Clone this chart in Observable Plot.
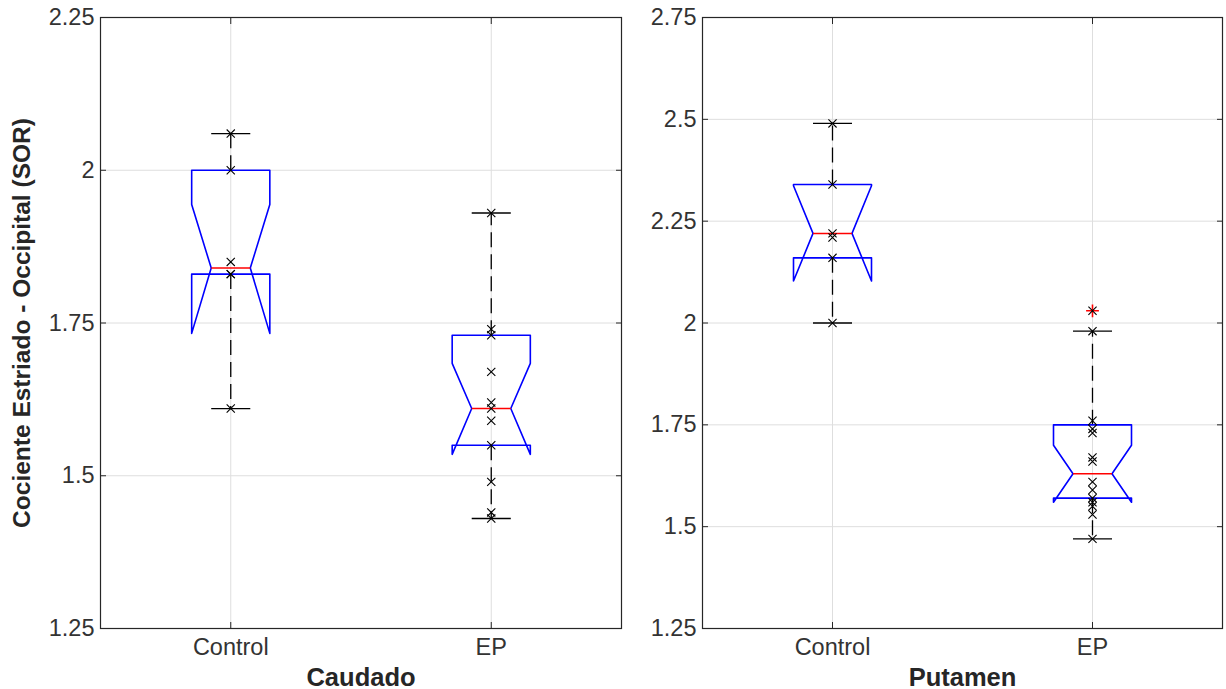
<!DOCTYPE html>
<html>
<head>
<meta charset="utf-8">
<script src="https://cdn.jsdelivr.net/npm/d3@7"></script>
<script src="https://cdn.jsdelivr.net/npm/@observablehq/plot@0.6"></script>
<style>
  body { margin: 0; background: #fff; }
  #wrap { position: relative; width: 1226px; height: 689px; background: #fff; }
  .panel { position: absolute; top: 0; }
  .panel svg { font-family: "Liberation Sans", Arial, Helvetica, sans-serif; overflow: visible; }
  .panel svg [aria-label="x-axis label"] { font-weight: bold; font-size: 25.5px; fill: #262626; }
  .panel svg [aria-label="y-axis label"] { font-weight: bold; font-size: 24.5px; fill: #262626; }
</style>
</head>
<body>
<div id="wrap">
  <div class="panel" id="caudado" style="left:0"></div>
  <div class="panel" id="putamen" style="left:626px"></div>
</div>
<script>
// Groups compared in each region
const groups = ["Control", "EP"];

// Caudado: box-plot summary per group (Control, EP)
const caudQ1 = [1.83, 1.55];
const caudMedian = [1.84, 1.61];
const caudQ3 = [2.00, 1.73];
const caudNotchLo = [1.733, 1.535];
const caudNotchHi = [1.944, 1.684];
const caudWhiskerLo = [1.61, 1.43];
const caudWhiskerHi = [2.06, 1.93];
const caudOutliers = [[], []];
// Caudado: individual SOR values
const caudControl = [2.06, 2.00, 1.85, 1.83, 1.83, 1.61];
const caudEP = [1.93, 1.74, 1.73, 1.67, 1.62, 1.61, 1.59, 1.55, 1.49, 1.44, 1.43];
const caudTicks = [1.25, 1.5, 1.75, 2, 2.25];

// Putamen: box-plot summary per group (Control, EP)
const putQ1 = [2.16, 1.57];
const putMedian = [2.22, 1.63];
const putQ3 = [2.34, 1.75];
const putNotchLo = [2.103, 1.56];
const putNotchHi = [2.337, 1.70];
const putWhiskerLo = [2.00, 1.47];
const putWhiskerHi = [2.49, 1.98];
const putOutliers = [[], [2.03]];
// Putamen: individual SOR values
const putControl = [2.49, 2.34, 2.22, 2.21, 2.16, 2.00];
const putEP = [2.03, 1.98, 1.76, 1.74, 1.73, 1.67, 1.66, 1.61, 1.59, 1.57, 1.56, 1.55, 1.53, 1.47];
const putTicks = [1.25, 1.5, 1.75, 2, 2.25, 2.5, 2.75];

const BOX_HALF = 0.15;    // half box width, in group units
const NOTCH_HALF = 0.075; // half width at the notch waist
const CAP_HALF = 0.075;   // half width of whisker caps
const INK = "#262626";

function panel({q1, med, q3, nlo, nhi, wlo, whi, outliers, obs, ticks, xLabel, yLabel, marginLeft, marginRight, width}) {
  const stats = groups.map((g, i) => ({
    g, c: i + 1, q1: q1[i], med: med[i], q3: q3[i], nlo: nlo[i], nhi: nhi[i], wlo: wlo[i], whi: whi[i]
  }));

  // Notched outline, traced the same way for every group
  const outline = stats.flatMap(s => {
    const L = s.c - BOX_HALF, R = s.c + BOX_HALF;
    const Ln = s.c - NOTCH_HALF, Rn = s.c + NOTCH_HALF;
    return [
      [L, s.q3], [R, s.q3], [R, s.nhi], [Rn, s.med], [R, s.nlo], [R, s.q1],
      [L, s.q1], [L, s.nlo], [Ln, s.med], [L, s.nhi], [L, s.q3]
    ].map(([x, y]) => ({g: s.g, x, y}));
  });

  const whiskers = stats.flatMap(s => [
    {c: s.c, y1: s.q3, y2: s.whi},
    {c: s.c, y1: s.q1, y2: s.wlo}
  ]);
  const caps = stats.flatMap(s => [{c: s.c, y: s.whi}, {c: s.c, y: s.wlo}]);
  const points = obs.flatMap((vals, i) => vals.map(v => ({c: i + 1, y: v})));
  const outs = outliers.flatMap((vals, i) => vals.map(v => ({c: i + 1, y: v})));
  const yDomain = [ticks[0], ticks[ticks.length - 1]];

  return Plot.plot({
    width,
    height: 689,
    marginTop: 17,
    marginBottom: 61,
    marginLeft,
    marginRight,
    style: {fontSize: "23.5px", color: INK, background: "transparent"},
    x: {domain: [0.5, 2.5]},
    y: {domain: yDomain},
    marks: [
      Plot.gridY(ticks, {stroke: "#dedede", strokeOpacity: 1}),
      Plot.gridX([1, 2], {stroke: "#dedede", strokeOpacity: 1}),
      Plot.link(whiskers, {x1: "c", x2: "c", y1: "y1", y2: "y2", stroke: "black", strokeWidth: 1.3, strokeDasharray: "15,7"}),
      Plot.link(caps, {x1: d => d.c - CAP_HALF, x2: d => d.c + CAP_HALF, y1: "y", y2: "y", stroke: "black", strokeWidth: 1.3}),
      Plot.line(outline, {x: "x", y: "y", z: "g", stroke: "#0000ff", strokeWidth: 1.6}),
      Plot.link(stats, {x1: d => d.c - NOTCH_HALF, x2: d => d.c + NOTCH_HALF, y1: "med", y2: "med", stroke: "#ff0000", strokeWidth: 1.5}),
      Plot.dot(outs, {x: "c", y: "y", symbol: "plus", r: 4.2, stroke: "#ff0000", strokeWidth: 1.6}),
      Plot.dot(points, {x: "c", y: "y", symbol: "times", r: 3.8, stroke: "black", strokeWidth: 1.1}),
      Plot.axisY({ticks, anchor: "left", tickSize: 0, tickPadding: 6, tickFormat: d => String(d), fill: "#333",
        label: yLabel, labelAnchor: "center", labelArrow: "none", labelOffset: 88}),
      Plot.axisY({ticks, anchor: "left", tickSize: -6, fill: "none", stroke: INK, label: null}),
      Plot.axisY({ticks, anchor: "right", tickSize: -6, fill: "none", stroke: INK, label: null}),
      Plot.axisX({ticks: [1, 2], anchor: "bottom", tickSize: 0, tickPadding: 10, tickFormat: i => groups[i - 1], fill: "#333",
        label: xLabel, labelAnchor: "center", labelArrow: "none", labelOffset: 57}),
      Plot.axisX({ticks: [1, 2], anchor: "bottom", tickSize: -6, fill: "none", stroke: INK, label: null}),
      Plot.axisX({ticks: [1, 2], anchor: "top", tickSize: -6, fill: "none", stroke: INK, label: null}),
      Plot.frame({stroke: INK, strokeWidth: 1.2})
    ]
  });
}

document.getElementById("caudado").append(panel({
  q1: caudQ1, med: caudMedian, q3: caudQ3, nlo: caudNotchLo, nhi: caudNotchHi,
  wlo: caudWhiskerLo, whi: caudWhiskerHi, outliers: caudOutliers,
  obs: [caudControl, caudEP], ticks: caudTicks,
  xLabel: "Caudado", yLabel: "Cociente Estriado - Occipital (SOR)",
  width: 626, marginLeft: 100, marginRight: 5
}));

document.getElementById("putamen").append(panel({
  q1: putQ1, med: putMedian, q3: putQ3, nlo: putNotchLo, nhi: putNotchHi,
  wlo: putWhiskerLo, whi: putWhiskerHi, outliers: putOutliers,
  obs: [putControl, putEP], ticks: putTicks,
  xLabel: "Putamen", yLabel: null,
  width: 600, marginLeft: 76, marginRight: 4
}));
</script>
</body>
</html>
